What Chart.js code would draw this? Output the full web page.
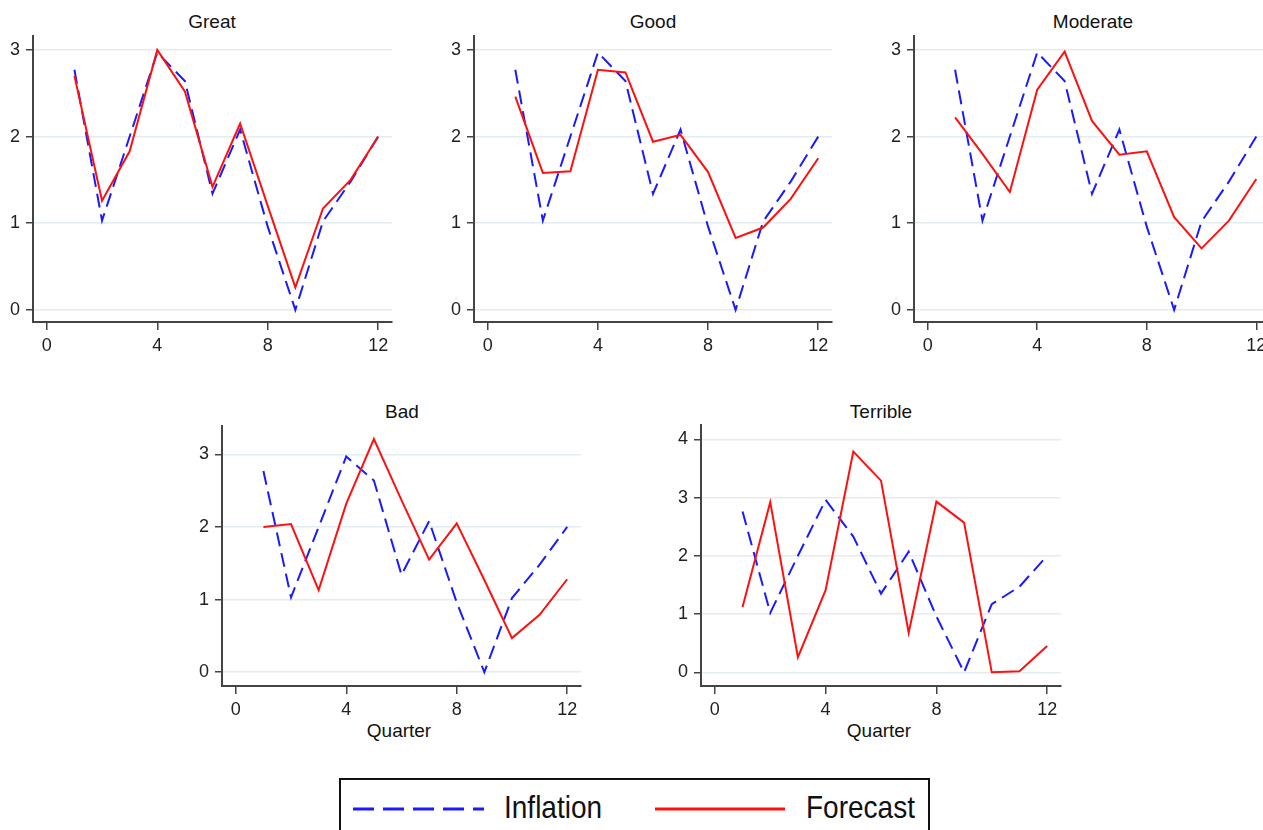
<!DOCTYPE html>
<html>
<head>
<meta charset="UTF-8">
<title>Inflation vs Forecast</title>
<script src="https://cdn.jsdelivr.net/npm/chart.js"></script>
<style>
  body { margin: 0; width: 1263px; height: 830px; overflow: hidden; background: #fff; position: relative;
         font-family: "Liberation Sans", Arial, sans-serif; color: #111; }
  canvas { position: absolute; }
  .title { position: absolute; font-size: 19px; line-height: 22px; transform: translateX(-50%); white-space: nowrap; }
  .legend { position: absolute; left: 339px; top: 778px; width: 591px; height: 80px; border: 2px solid #111; box-sizing: border-box; }
  .legend span { position: absolute; font-size: 28px; line-height: 28px; transform: scaleY(1.15); transform-origin: left bottom; white-space: nowrap; }
  .legend svg { position: absolute; left: 0; top: 0; }
</style>
</head>
<body>

<div class="title" style="left:212px;top:11px">Great</div>
<div class="title" style="left:653px;top:11px">Good</div>
<div class="title" style="left:1093px;top:11px">Moderate</div>
<div class="title" style="left:402px;top:401px">Bad</div>
<div class="title" style="left:881px;top:401px">Terrible</div>
<div class="title" style="left:399px;top:720px">Quarter</div>
<div class="title" style="left:879px;top:720px">Quarter</div>

<canvas id="great"></canvas>
<canvas id="good"></canvas>
<canvas id="moderate"></canvas>
<canvas id="bad"></canvas>
<canvas id="terrible"></canvas>

<div class="legend">
  <svg width="591" height="80">
    <line x1="12" y1="29" x2="143" y2="29" stroke="#1a1aff" stroke-width="3" stroke-dasharray="21 9"/>
    <line x1="314" y1="29" x2="444" y2="29" stroke="#ff1010" stroke-width="3"/>
  </svg>
  <span style="left:163px;top:16px">Inflation</span>
  <span style="left:465px;top:16px">Forecast</span>
</div>

<script>
  // data
  const quarters = [1, 2, 3, 4, 5, 6, 7, 8, 9, 10, 11, 12];
  const inflation = [2.77, 1.03, 2.0, 2.97, 2.64, 1.34, 2.08, 0.96, 0.0, 1.02, 1.48, 2.0];
  const inflationTerrible = [2.76, 1.02, 2.0, 2.96, 2.33, 1.35, 2.07, 0.96, 0.0, 1.17, 1.47, 2.0];

  const forecastGreat = [2.70, 1.26, 1.83, 3.0, 2.52, 1.42, 2.15, 1.2, 0.26, 1.17, 1.5, 2.0];
  const forecastGood = [2.46, 1.58, 1.60, 2.77, 2.74, 1.94, 2.02, 1.59, 0.83, 0.95, 1.28, 1.75];
  const forecastModerate = [2.22, 1.80, 1.36, 2.54, 2.98, 2.18, 1.79, 1.83, 1.07, 0.71, 1.03, 1.51];
  const forecastBad = [2.0, 2.04, 1.13, 2.32, 3.21, 2.37, 1.55, 2.05, 1.27, 0.47, 0.79, 1.28];
  const forecastTerrible = [1.12, 2.92, 0.26, 1.41, 3.79, 3.29, 0.68, 2.93, 2.57, 0.0, 0.02, 0.45];

  const xTicks = [0, 4, 8, 12];
  const yTicks3 = [0, 1, 2, 3];
  const yTicks4 = [0, 1, 2, 3, 4];

  const BLUE = '#1a1aff';
  const RED = '#ff1010';
  const AXIS = '#444';
  const GRID = '#e3ecf0';
  const FONT = '"Liberation Sans", Arial, sans-serif';

  const PAD_TOP = 12, PAD_RIGHT = 14, Y_W = 40, X_H = 40;

  function toPoints(vals) {
    return quarters.map((q, i) => ({ x: q, y: vals[i] }));
  }

  // plot area box (left, right, top, bottom) in page pixels
  function makePanel(id, box, infl, fcst, yMin, yMax, yTicks) {
    const cv = document.getElementById(id);
    const w = Y_W + (box.r - box.l) + PAD_RIGHT;
    const h = PAD_TOP + (box.b - box.t) + X_H;
    cv.width = w; cv.height = h;
    cv.style.left = (box.l - Y_W) + 'px';
    cv.style.top = (box.t - PAD_TOP) + 'px';

    return new Chart(cv, {
      type: 'line',
      data: {
        datasets: [
          { label: 'Forecast', data: toPoints(fcst), borderColor: RED, borderWidth: 2, pointRadius: 0, tension: 0 },
          { label: 'Inflation', data: toPoints(infl), borderColor: BLUE, borderWidth: 2, borderDash: [14, 7], pointRadius: 0, tension: 0 }
        ]
      },
      options: {
        responsive: false,
        animation: false,
        devicePixelRatio: 1,
        layout: { padding: { top: PAD_TOP, right: PAD_RIGHT, left: 0, bottom: 0 } },
        plugins: { legend: { display: false }, tooltip: { enabled: false } },
        scales: {
          x: {
            type: 'linear', min: -0.5, max: 12.5,
            afterBuildTicks: s => { s.ticks = xTicks.map(v => ({ value: v })); },
            afterFit: s => { s.height = X_H; s.paddingLeft = 0; s.paddingRight = 0; },
            grid: { drawOnChartArea: false, tickLength: 8, tickColor: AXIS, lineWidth: 1.5 },
            border: { color: AXIS, width: 2 },
            ticks: { padding: 5, color: '#222', font: { size: 18, family: FONT }, maxRotation: 0, autoSkip: false }
          },
          y: {
            type: 'linear', min: yMin, max: yMax,
            afterBuildTicks: s => { s.ticks = yTicks.map(v => ({ value: v })); },
            afterFit: s => { s.width = Y_W; s.paddingTop = 0; s.paddingBottom = 0; },
            grid: { color: GRID, lineWidth: 1.5, tickLength: 7, tickColor: AXIS },
            border: { color: AXIS, width: 2 },
            ticks: { padding: 6, color: '#222', font: { size: 18, family: FONT } }
          }
        }
      }
    });
  }

  makePanel('great', { l: 33, r: 392, t: 36, b: 322 }, inflation, forecastGreat, -0.14, 3.16, yTicks3);
  makePanel('good', { l: 474, r: 832, t: 36, b: 322 }, inflation, forecastGood, -0.14, 3.16, yTicks3);
  makePanel('moderate', { l: 914, r: 1270, t: 36, b: 322 }, inflation, forecastModerate, -0.14, 3.16, yTicks3);
  makePanel('bad', { l: 222, r: 581, t: 426, b: 686 }, inflation, forecastBad, -0.19, 3.39, yTicks3);
  makePanel('terrible', { l: 701, r: 1061, t: 425, b: 686 }, inflationTerrible, forecastTerrible, -0.235, 4.245, yTicks4);
</script>
</body>
</html>
